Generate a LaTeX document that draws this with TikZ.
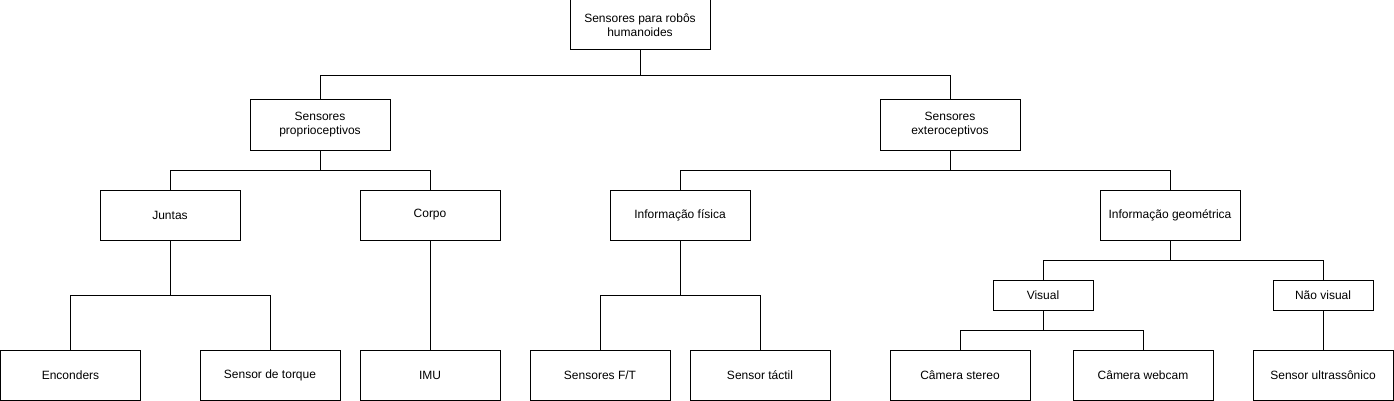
\documentclass[tikz,border=0pt]{standalone}
\usepackage{fontspec}
\setmainfont{Liberation Sans}
\usepackage{tikz}
\definecolor{boxline}{gray}{0}
\tikzset{
  box/.style={draw=boxline,rectangle,fill=white,line width=1pt,minimum width=140pt,minimum height=50pt,align=center,font=\fontsize{12}{14}\selectfont,inner sep=1pt},
  smallbox/.style={box,minimum width=100pt,minimum height=30pt},
  link/.style={draw=boxline,line width=1pt},
}

\begin{document}
\begin{tikzpicture}[x=1pt,y=-1pt]
  \useasboundingbox (0,0) rectangle (1394,401);
  % level 0
  \node[box] (root) at (640,25) {Sensores para robôs\\humanoides};
  % level 1
  \node[box] (prop) at (320,125) {Sensores\\proprioceptivos};
  \node[box] (ext) at (950,125) {Sensores\\exteroceptivos};
  % level 2
  \node[box] (juntas) at (170,215) {Juntas};
  \node[box] (corpo) at (430,215) {Corpo};
  \node[box] (fis) at (680,215) {Informação física};
  \node[box] (geo) at (1170,215) {Informação geométrica};
  % level 3
  \node[smallbox] (vis) at (1043,295) {Visual};
  \node[smallbox] (nvis) at (1323,295) {Não visual};
  % leaves
  \node[box] (enc) at (70.5,375) {Enconders};
  \node[box] (torq) at (270,375) {Sensor de torque};
  \node[box] (imu) at (430,375) {IMU};
  \node[box] (ft) at (600,375) {Sensores F/T};
  \node[box] (tact) at (760,375) {Sensor táctil};
  \node[box] (stereo) at (960,375) {Câmera stereo};
  \node[box] (webcam) at (1143,375) {Câmera webcam};
  \node[box] (ultra) at (1323,375) {Sensor ultrassônico};
  % connectors
  \draw[link] (root.south) -- ++(0,25) -| (prop.north);
  \draw[link] (root.south) -- ++(0,25) -| (ext.north);
  \draw[link] (prop.south) -- ++(0,20) -| (juntas.north);
  \draw[link] (prop.south) -- ++(0,20) -| (corpo.north);
  \draw[link] (ext.south) -- ++(0,20) -| (fis.north);
  \draw[link] (ext.south) -- ++(0,20) -| (geo.north);
  \draw[link] (juntas.south) -- ++(0,55) -| (enc.north);
  \draw[link] (juntas.south) -- ++(0,55) -| (torq.north);
  \draw[link] (corpo.south) -- (imu.north);
  \draw[link] (fis.south) -- ++(0,55) -| (ft.north);
  \draw[link] (fis.south) -- ++(0,55) -| (tact.north);
  \draw[link] (geo.south) -- ++(0,20) -| (vis.north);
  \draw[link] (geo.south) -- ++(0,20) -| (nvis.north);
  \draw[link] (vis.south) -- ++(0,20) -| (stereo.north);
  \draw[link] (vis.south) -- ++(0,20) -| (webcam.north);
  \draw[link] (nvis.south) -- (ultra.north);
\end{tikzpicture}
\end{document}
